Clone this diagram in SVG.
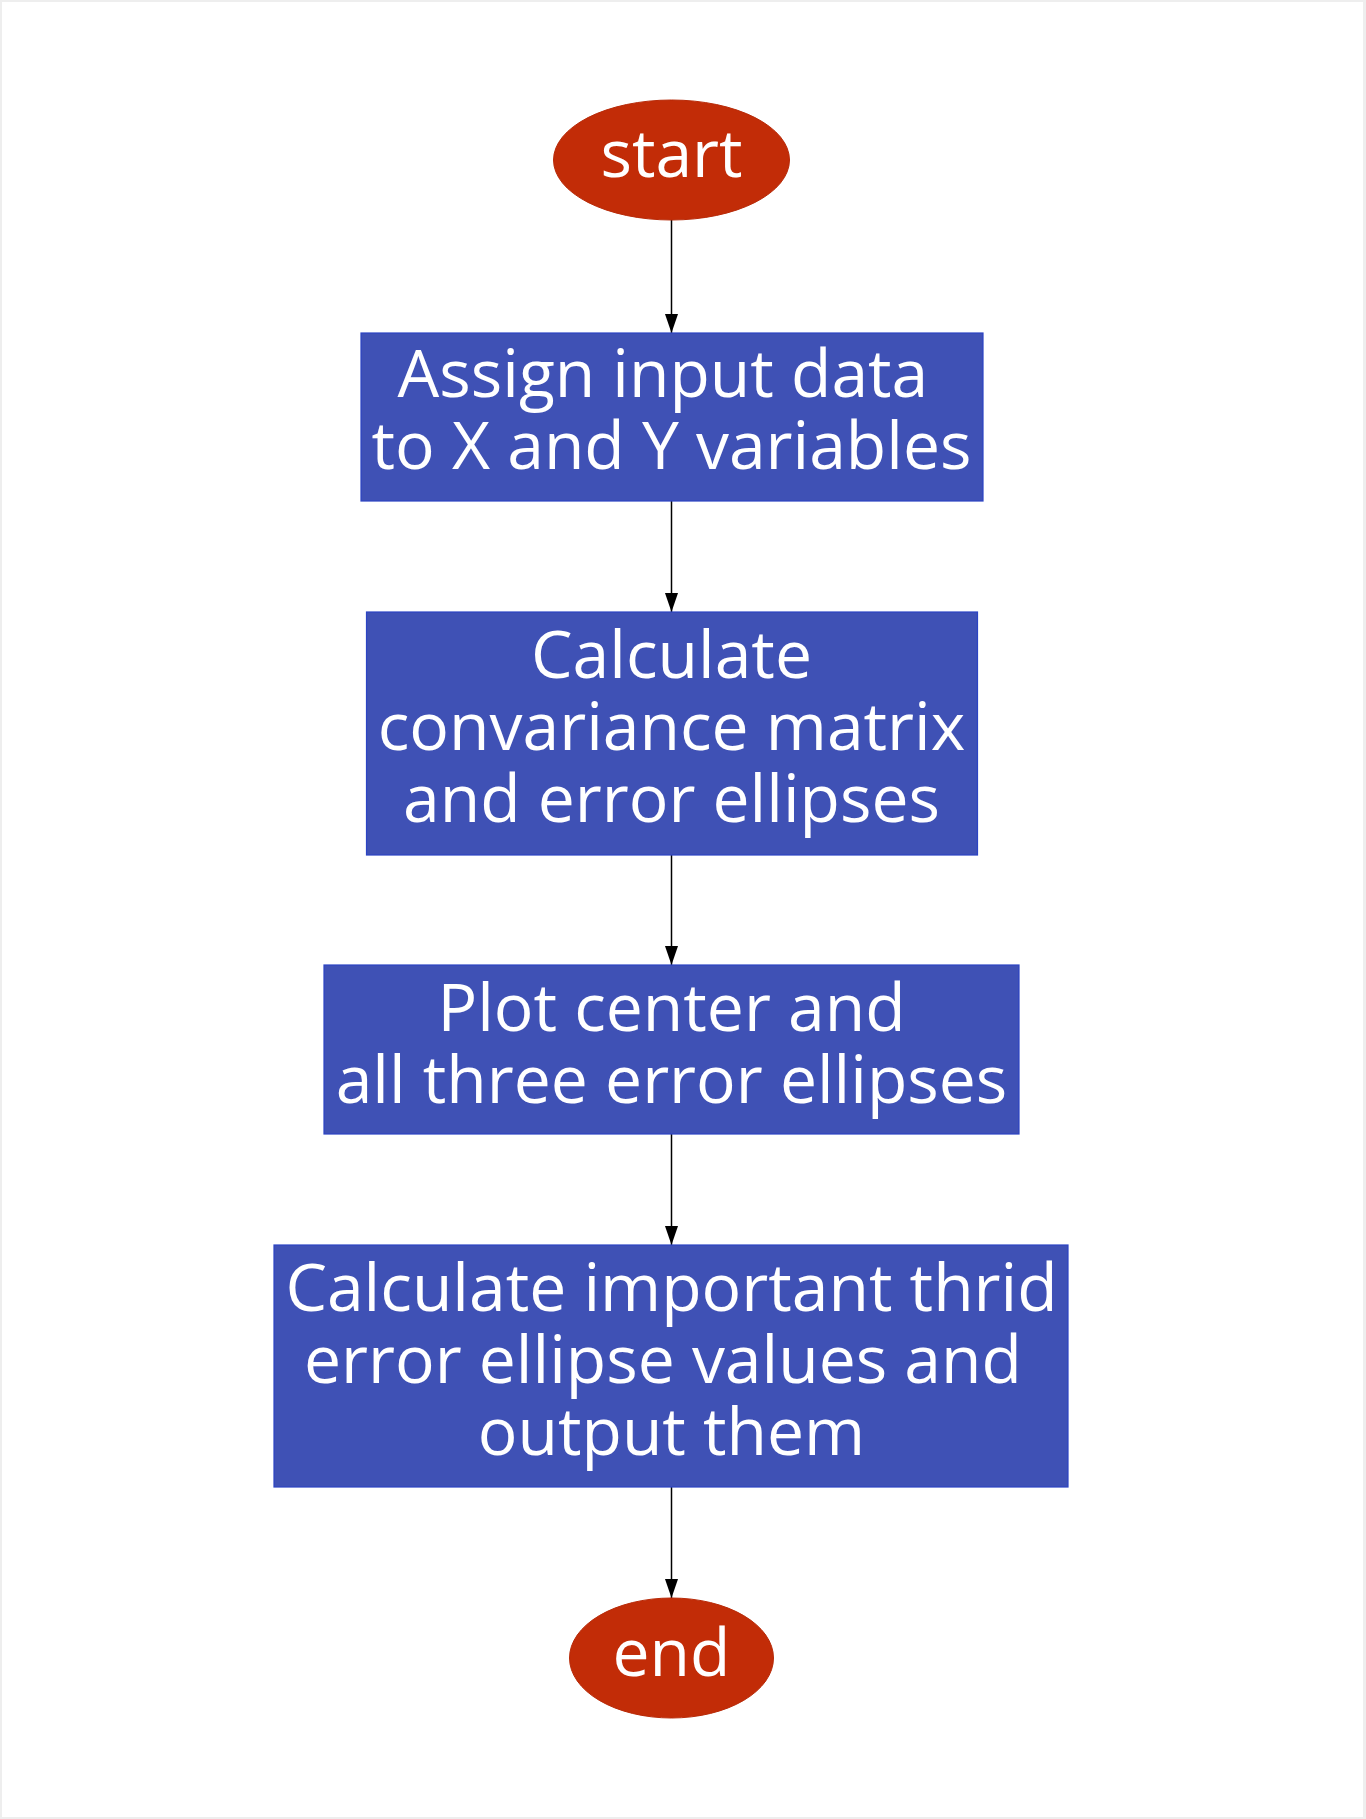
<svg xmlns="http://www.w3.org/2000/svg" width="1366" height="1819" viewBox="0 0 1366 1819">
<style>
.term{fill:#c22c07;stroke:#b82a08;stroke-width:1}
.proc{fill:#3f51b5;stroke:#2c44c4;stroke-width:1.2}
.lbl{font-family:"Open Sans","Noto Sans",sans-serif;font-size:66px;fill:#ffffff;text-anchor:middle}
.edge{stroke:#000000;stroke-width:1.5;fill:none}
</style>
<defs>
<marker id="arrow" markerUnits="userSpaceOnUse" markerWidth="19" markerHeight="13" refX="19" refY="6.5" orient="auto" viewBox="0 0 19 13">
<path d="M0,0 L19,6.5 L0,13 Z" fill="#000000"/>
</marker>
</defs>
<rect x="0" y="0" width="1366" height="1819" fill="#eeeeee"/>
<rect x="2" y="2" width="1361" height="1815" fill="#ffffff"/>
<g id="connectors">
<line class="edge" x1="671.5" y1="220" x2="671.5" y2="333" marker-end="url(#arrow)"/>
<line class="edge" x1="671.5" y1="501" x2="671.5" y2="612" marker-end="url(#arrow)"/>
<line class="edge" x1="671.5" y1="855" x2="671.5" y2="965" marker-end="url(#arrow)"/>
<line class="edge" x1="671.5" y1="1134" x2="671.5" y2="1245" marker-end="url(#arrow)"/>
<line class="edge" x1="671.5" y1="1487" x2="671.5" y2="1598" marker-end="url(#arrow)"/>
</g>
<g id="start">
<ellipse class="term" cx="671.5" cy="160" rx="118" ry="60"/>
<text class="lbl" x="671.5" y="177">start</text>
</g>
<g id="assign">
<rect class="proc" x="361" y="333" width="622" height="168"/>
<text class="lbl" x="671.5" y="397" xml:space="preserve">Assign input data </text>
<text class="lbl" x="671.5" y="469">to X and Y variables</text>
</g>
<g id="calc_cov">
<rect class="proc" x="366.5" y="612" width="611" height="243"/>
<text class="lbl" x="671.5" y="678">Calculate</text>
<text class="lbl" x="671.5" y="750">convariance matrix</text>
<text class="lbl" x="671.5" y="822">and error ellipses</text>
</g>
<g id="plot">
<rect class="proc" x="324" y="965" width="695" height="169"/>
<text class="lbl" x="671.5" y="1031">Plot center and</text>
<text class="lbl" x="671.5" y="1103">all three error ellipses</text>
</g>
<g id="calc_out">
<rect class="proc" x="274" y="1245" width="794" height="242"/>
<text class="lbl" x="671.5" y="1311">Calculate important thrid</text>
<text class="lbl" x="671.5" y="1383" xml:space="preserve">error ellipse values and </text>
<text class="lbl" x="671.5" y="1455">output them</text>
</g>
<g id="end">
<ellipse class="term" cx="671.5" cy="1658" rx="102" ry="60"/>
<text class="lbl" x="671.5" y="1676">end</text>
</g>
</svg>
